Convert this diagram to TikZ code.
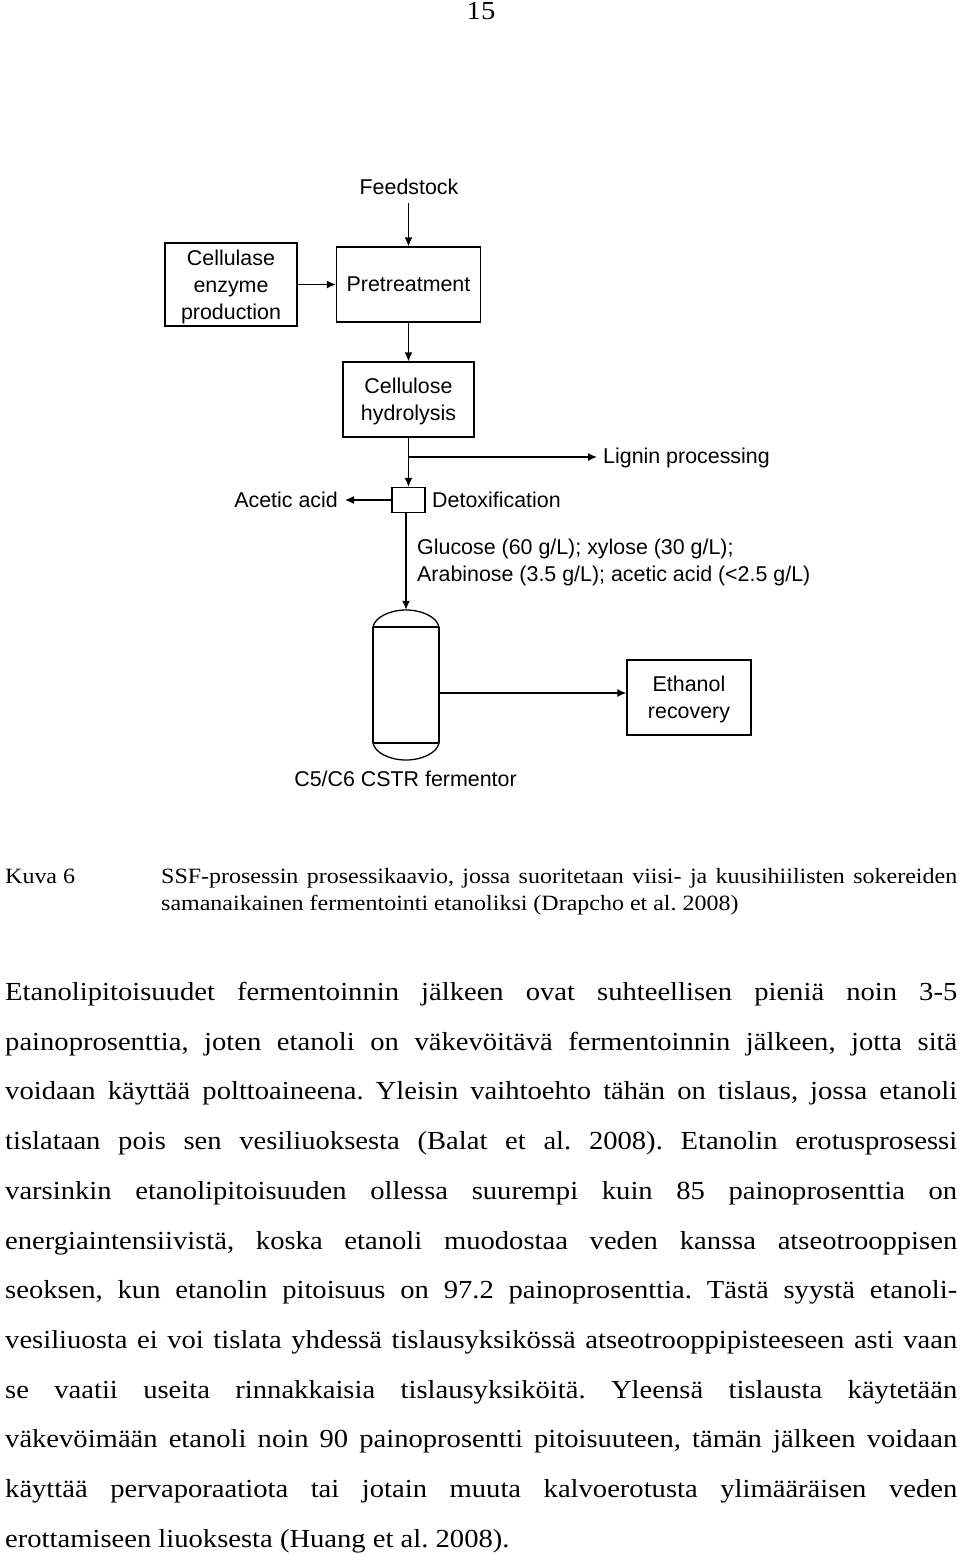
\documentclass[tikz,border=0pt]{standalone}
\usepackage{fontspec}
\newfontfamily\diagfont{Liberation Sans}
\newfontfamily\bodyfont[FakeStretch=1.1]{Liberation Serif}
\usetikzlibrary{arrows.meta,positioning}
\tikzset{
  flowbox/.style={draw, line width=1.3pt, inner sep=0pt, align=center, font=\diagfont\fontsize{21.4}{27}\selectfont},
  flowlabel/.style={inner sep=0pt, align=left, font=\diagfont\fontsize{21.4}{27}\selectfont},
  flowline/.style={line width=1.3pt, -{Latex[length=9pt,width=8pt]}},
  vesselline/.style={line width=1.3pt},
  bodyline/.style={anchor=base west, inner sep=0pt, font=\bodyfont\frenchspacing\fontsize{26}{28}\selectfont},
  captionline/.style={anchor=base west, inner sep=0pt, font=\bodyfont\frenchspacing\fontsize{21.8}{28}\selectfont}
}
\begin{document}
\begin{tikzpicture}[x=1pt, y=-1pt]
  \useasboundingbox (0,0) rectangle (960,1555);
  \node[bodyline] (pagenum) at (466.5,20) {15};
  % flow sheet
  \node[flowlabel] (feed) at (409,187) {Feedstock};
  \node[flowbox, text depth=0pt, minimum width=132pt, minimum height=83pt] (enzyme) at (231,284.5) {Cellulase\\enzyme\\production};
  \node[flowbox, minimum width=144pt, minimum height=75pt] (pre) at (408.5,284.5) {Pretreatment};
  \node[flowbox, text depth=0pt, minimum width=131pt, minimum height=75pt] (hydrolysis) at (408.5,399.5) {Cellulose\\hydrolysis};
  \node[flowbox, minimum width=33pt, minimum height=25pt] (detox) at (408.5,500) {};
  \node[flowlabel, anchor=west] (detoxlabel) at (432,500) {Detoxification};
  \node[flowlabel, anchor=east] (acetic) at (338,500) {Acetic acid};
  \node[flowlabel, anchor=west] (lignin) at (603,458) {Lignin processing};
  \node[flowlabel, anchor=north west] (sugars) at (417,539) {Glucose (60 g/L); xylose (30 g/L);\\Arabinose (3.5 g/L); acetic acid (<2.5 g/L)};
  \node[flowbox, text depth=0pt, minimum width=124pt, minimum height=75pt] (recovery) at (689,697.5) {Ethanol\\recovery};
  \node[flowlabel] (vessellabel) at (405.5,779) {C5/C6 CSTR fermentor};
  % vessel
  \node[minimum width=66pt, minimum height=150pt, inner sep=0pt] (fermentor) at (406,685) {};
  \draw[vesselline] (373,627) -- (373,743) (439,627) -- (439,743);
  \draw[vesselline] (373,627) -- (439,627) (373,743) -- (439,743);
  \draw[vesselline] (373,627) .. controls (375,617) and (390,610) .. (406,610) .. controls (422,610) and (437,617) .. (439,627);
  \draw[vesselline] (373,743) .. controls (375,753) and (390,760) .. (406,760) .. controls (422,760) and (437,753) .. (439,743);
  % connectors
  \coordinate (branch) at (408.5,457);
  \coordinate (productout) at (439,693);
  \draw[flowline] (pre.north |- 0,203) -- (pre.north);
  \draw[flowline] (enzyme.east) -- (pre.west);
  \draw[flowline] (pre.south) -- (hydrolysis.north);
  \draw[flowline] (hydrolysis.south) -- (detox.north);
  \draw[flowline] (branch) -- ([xshift=-6pt]lignin.west |- branch);
  \draw[flowline] (detox.west) -- ([xshift=7pt]acetic.east);
  \draw[flowline] (fermentor.north |- detox.south) -- (fermentor.north);
  \draw[flowline] (productout) -- (recovery.west |- productout);
  % caption
  \node[captionline] (kuva) at (5,883) {Kuva 6};
  \node[captionline] (captiona) at (161,883) {\makebox[796pt][s]{SSF-prosessin prosessikaavio, jossa suoritetaan viisi- ja kuusihiilisten sokereiden}};
  \node[captionline] (captionb) at (161,910) {samanaikainen fermentointi etanoliksi (Drapcho et al. 2008)};
  % body text
  \foreach \txt [count=\i] in {
    {Etanolipitoisuudet fermentoinnin jälkeen ovat suhteellisen pieniä noin 3-5},
    {painoprosenttia, joten etanoli on väkevöitävä fermentoinnin jälkeen, jotta sitä},
    {voidaan käyttää polttoaineena. Yleisin vaihtoehto tähän on tislaus, jossa etanoli},
    {tislataan pois sen vesiliuoksesta (Balat et al. 2008). Etanolin erotusprosessi},
    {varsinkin etanolipitoisuuden ollessa suurempi kuin 85 painoprosenttia on},
    {energiaintensiivistä, koska etanoli muodostaa veden kanssa atseotrooppisen},
    {seoksen, kun etanolin pitoisuus on 97.2 painoprosenttia. Tästä syystä etanoli-},
    {vesiliuosta ei voi tislata yhdessä tislausyksikössä atseotrooppipisteeseen asti vaan},
    {se vaatii useita rinnakkaisia tislausyksiköitä. Yleensä tislausta käytetään},
    {väkevöimään etanoli noin 90 painoprosentti pitoisuuteen, tämän jälkeen voidaan},
    {käyttää pervaporaatiota tai jotain muuta kalvoerotusta ylimääräisen veden}}
    \node[bodyline] (line\i) at (5,{1000.5+49.7*(\i-1)}) {\makebox[952pt][s]{\txt}};
  \node[bodyline] (line12) at (5,1547) {erottamiseen liuoksesta (Huang et al. 2008).};
\end{tikzpicture}
\end{document}
